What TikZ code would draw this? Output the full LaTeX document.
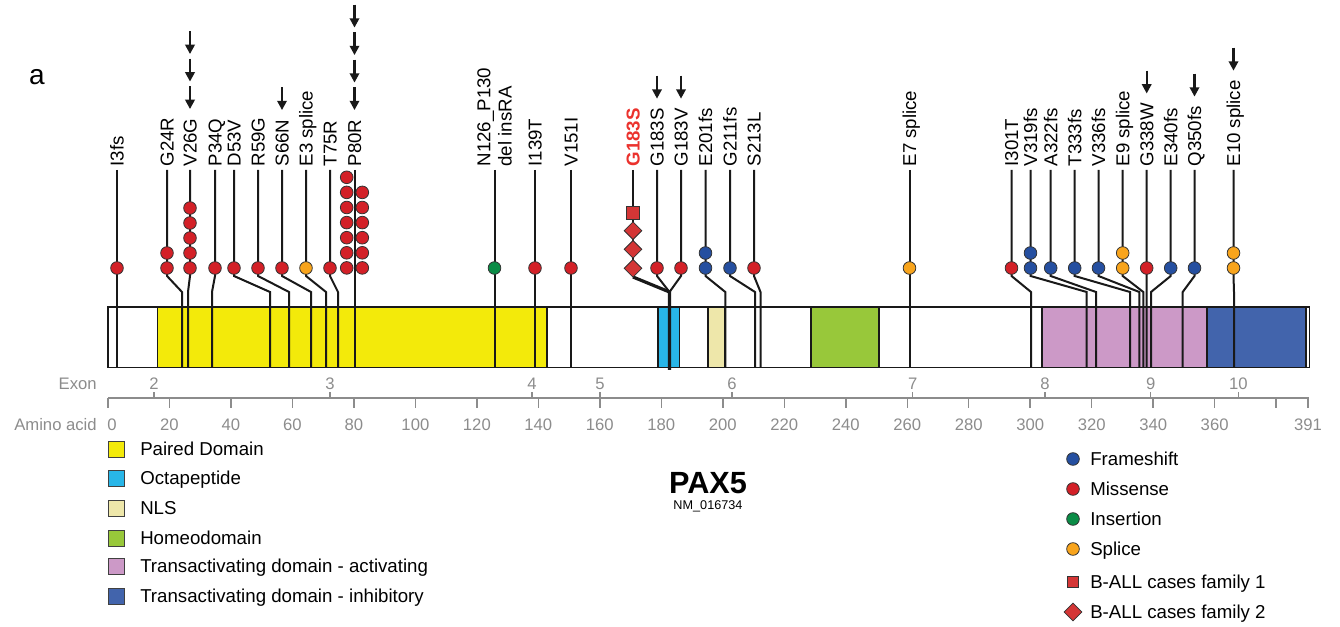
\documentclass[tikz,border=0pt]{standalone}
\usepackage{fontspec}
\setmainfont{Liberation Sans}
\usepackage{xcolor}
\usepackage{tikz}
\usetikzlibrary{arrows,arrows.meta,shapes,positioning,calc}
\definecolor{mred}{RGB}{211,32,39}
\definecolor{mblue}{RGB}{37,79,160}
\definecolor{mgreen}{RGB}{10,140,70}
\definecolor{morange}{RGB}{248,164,28}
\definecolor{famred}{RGB}{212,54,54}
\definecolor{hotred}{RGB}{235,50,45}
\definecolor{paired}{RGB}{243,234,10}
\definecolor{octa}{RGB}{40,182,232}
\definecolor{nls}{RGB}{238,231,170}
\definecolor{homeo}{RGB}{152,200,58}
\definecolor{tadact}{RGB}{204,153,199}
\definecolor{tadinh}{RGB}{66,100,172}
\definecolor{axisgray}{RGB}{140,140,140}
\newcommand{\mutfont}{\fontsize{14}{16}\selectfont}
\newcommand{\axfont}{\fontsize{12.5}{15}\selectfont}

\begin{document}
\begin{tikzpicture}[>={Triangle[length=7pt,width=7pt]}, x=0.75pt, y=-0.75pt]
\tikzstyle{mut}=[circle, draw=black!80, line width=0.6pt, minimum size=9.5pt, inner sep=0pt]
\tikzstyle{fam1}=[rectangle, draw=black!80, line width=0.6pt, fill=famred, minimum size=9.5pt, inner sep=0pt]
\tikzstyle{fam2}=[diamond, draw=black!80, line width=0.6pt, fill=famred, minimum size=13.5pt, inner sep=0pt]
\tikzstyle{stem}=[line width=1.5pt, black!90]
\tikzstyle{mlab}=[rotate=90, anchor=west, inner sep=1pt, font=\mutfont, text height=10pt, text depth=0pt]
\tikzstyle{hit}=[->, line width=1.7pt, black!90]
\tikzstyle{dom}=[draw=black!90, line width=1.4pt]
\tikzstyle{ax}=[draw=axisgray, line width=1.1pt]
\tikzstyle{axlab}=[text=axisgray, font=\axfont, inner sep=0pt]
\tikzstyle{key}=[rectangle, draw=black!75, line width=0.7pt, minimum size=12pt, inner sep=0pt]
\tikzstyle{keytxt}=[anchor=west, font=\mutfont, inner sep=0pt, text height=10pt, text depth=0pt]
\useasboundingbox (0,0) rectangle (1340,627);

\node[font=\fontsize{21}{24}\selectfont] (panel) at (37,77) {a};

% protein and domains
\draw[dom, fill=white] (108,307) rectangle (1309.5,367.5);
\draw[dom, fill=paired] (157.5,307) rectangle (547.3,367.5);
\draw[dom, fill=octa] (658,307) rectangle (679.5,367.5);
\draw[dom, fill=nls] (707.7,307) rectangle (725,367.5);
\draw[dom, fill=homeo] (811.4,307) rectangle (878.8,367.5);
\draw[dom, fill=tadact] (1041.7,307) rectangle (1207.3,367.5);
\draw[dom, fill=tadinh] (1207.3,307) rectangle (1306,367.5);

% single lollipops
\foreach \dx/\kx/\txt/\nc/\col/\narr [count=\i] in {
  117/117/I3fs/1/mred/0, 167/182/G24R/2/mred/0, 190/188/V26G/5/mred/3,
  215/212/P34Q/1/mred/0, 234/270/D53V/1/mred/0, 258/289/R59G/1/mred/0,
  282/311/S66N/1/mred/1, 306/326/{E3 splice}/1/morange/0, 330/338/T75R/1/mred/0,
  535/535/I139T/1/mred/0, 571/571/V151I/1/mred/0,
  657/669.5/G183S/1/mred/1, 681/669.5/G183V/1/mred/1,
  705.5/725.3/E201fs/2/mblue/0, 730/755/G211fs/1/mblue/0, 754/760.5/S213L/1/mred/0,
  909.5/909.5/{E7 splice}/1/morange/0,
  1011.5/1031/I301T/1/mred/0, 1030.5/1086.7/V319fs/2/mblue/0, 1050.7/1096/A322fs/1/mblue/0,
  1074.7/1130/T333fs/1/mblue/0, 1098.5/1139.3/V336fs/1/mblue/0,
  1122.7/1143.3/{E9 splice}/2/morange/0, 1146.7/1146.5/G338W/1/mred/1,
  1170.7/1151/E340fs/1/mblue/0, 1194.5/1182.7/Q350fs/1/mblue/1,
  1233.5/1234/{E10 splice}/2/morange/1} {
  \node[mlab] (l\i) at (\dx,168) {\txt};
  \coordinate (t\i) at (\dx,276);
  \coordinate (k\i) at (\kx,292);
  \coordinate (b\i) at (\kx,367.5);
  \draw[stem, shorten <=1.5pt] (l\i.west) -- (t\i) -- (k\i) -- (b\i);
  \foreach \j in {1,...,\nc}
    \node[mut, fill=\col] (m\i-\j) at (\dx,283-15*\j) {};
  \ifnum\narr>0
    \foreach \j in {1,...,\narr}
      \draw[hit] ($(l\i.east)+(0,{-31-27.5*(\j-1)})$) -- ($(l\i.east)+(0,{-8-27.5*(\j-1)})$);
  \fi
}

% P80R hotspot
\node[mlab] (p80) at (354.5,168) {P80R};
\coordinate (p80b) at (354.5,367.5);
\draw[stem, shorten <=1.5pt] (p80.west) -- (p80b);
\foreach \j in {1,...,7}
  \node[mut, fill=mred] (p80l\j) at (346.7,283-15.1*\j) {};
\foreach \j in {1,...,6}
  \node[mut, fill=mred] (p80r\j) at (362.3,283-15.1*\j) {};
\foreach \j in {1,...,4}
  \draw[hit] ($(p80.east)+(0,{-31-27.5*(\j-1)})$) -- ($(p80.east)+(0,{-8-27.5*(\j-1)})$);

% insertion
\node[rotate=90, anchor=west, inner sep=1pt, font=\mutfont, align=left] (n126) at (494.5,168) {N126\_P130\\del insRA};
\coordinate (n126b) at (494.5,367.5);
\draw[stem, shorten <=1.5pt] (n126.west) -- (n126b);
\node[mut, fill=mgreen] (n126m) at (494.5,268) {};

% families
\node[mlab, text=hotred, font=\mutfont\bfseries] (g183) at (633,168) {G183S};
\coordinate (g183t) at (633,277);
\coordinate (g183k) at (669.5,292);
\coordinate (g183b) at (669.5,370);
\draw[stem, shorten <=1.5pt] (g183.west) -- (g183t);
\draw[line width=2.4pt, black!90] (g183t) -- (g183k) -- (g183b);
\node[fam1] (fa1) at (633,213) {};
\node[fam2] (fb1) at (633,230.7) {};
\node[fam2] (fb2) at (633,249.3) {};
\node[fam2] (fb3) at (633,268.3) {};

% axis
\draw[ax] (108,398) -- (1308.5,398);
\foreach \v in {0,20,...,380}
  \draw[ax] (108+3.074*\v,398) -- (108+3.074*\v,408);
\draw[ax] (1308,398) -- (1308,408);
\foreach \v in {20,40,...,360}
  \node[axlab] (aa\v) at (108+3.074*\v,425) {\v};
\node[axlab] (aa0) at (112,425) {0};
\node[axlab] (aa391) at (1308,425) {391};
\foreach \e/\ex in {2/154,3/330,4/532,5/600,6/732,7/912.7,8/1045,9/1150.7,10/1238.3} {
  \draw[ax] (\ex,398) -- (\ex,392.5);
  \node[axlab] (ex\e) at (\ex,384) {\e};
}
\node[axlab, anchor=east] (exlab) at (97,384) {Exon};
\node[axlab, anchor=east] (aalab) at (97,425) {Amino acid};

% domain key
\foreach \c/\t/\y [count=\i] in {paired/Paired Domain/449, octa/Octapeptide/478,
  nls/NLS/508, homeo/Homeodomain/538, tadact/Transactivating domain - activating/566,
  tadinh/Transactivating domain - inhibitory/596} {
  \node[key, fill=\c] (dk\i) at (116,\y) {};
  \node[keytxt] (dt\i) at (140,\y) {\t};
}

% gene
\node[font=\fontsize{23}{26}\selectfont\bfseries, inner sep=0pt] (gene) at (708,483) {PAX5};
\node[below=5pt of gene, font=\fontsize{9.5}{11}\selectfont, inner sep=0pt] (acc) {NM\_016734};

% mutation key
\foreach \c/\t/\y [count=\i] in {mblue/Frameshift/459, mred/Missense/489,
  mgreen/Insertion/519, morange/Splice/549} {
  \node[mut, fill=\c] (mk\i) at (1073,\y) {};
  \node[keytxt] (mt\i) at (1090,\y) {\t};
}
\node[fam1, minimum size=8.5pt] (mk5) at (1073,582) {};
\node[keytxt] (mt5) at (1090,582) {B-ALL cases family 1};
\node[fam2] (mk6) at (1073,612) {};
\node[keytxt] (mt6) at (1090,612) {B-ALL cases family 2};
\end{tikzpicture}
\end{document}
